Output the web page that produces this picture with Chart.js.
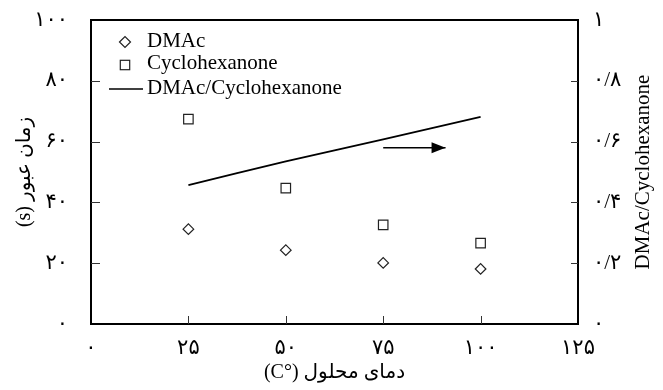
<!DOCTYPE html>
<html>
<head>
<meta charset="utf-8">
<script src="https://cdn.jsdelivr.net/npm/chart.js@4.4.1/dist/chart.umd.min.js"></script>
<style>
  html, body { margin: 0; padding: 0; background: #fff; }
</style>
</head>
<body>
<canvas id="chart" width="663" height="390"></canvas>
<script>
const temps = [25, 50, 75, 100];
const dmacTime = [31.2, 24.3, 20.1, 18.1];
const cycloTime = [67.4, 44.7, 32.6, 26.6];
const ratio = [0.457, 0.535, 0.607, 0.681];
const arrowX = [75, 91];
const arrowY = [0.58, 0.58];

const xTickLabels = ["۰", "۲۵", "۵۰", "۷۵", "۱۰۰", "۱۲۵"];
const leftTickLabels = ["۰", "۲۰", "۴۰", "۶۰", "۸۰", "۱۰۰"];
const rightTickLabels = ["۰", "۰/۲", "۰/۴", "۰/۶", "۰/۸", "۱"];
const seriesNames = ["DMAc", "Cyclohexanone", "DMAc/Cyclohexanone"];
const xTitle = "دمای محلول (°C)";
const leftTitle = "زمان عبور (s)";
const rightTitle = "DMAc/Cyclohexanone";

const serif = "'Liberation Serif', 'DejaVu Sans', serif";
const ink = "#000";

const pts = (xs, ys) => xs.map((x, i) => ({ x: x, y: ys[i] }));
const rtl = (s) => "\u202B" + s + "\u202C";
// keep the plot box where it is: no extra room for half tick labels
const noPad = (s) => {
  s.paddingTop = 0;
  s.paddingBottom = 0;
  s.paddingLeft = 0;
  s.paddingRight = 0;
};

// frame, inward tick marks, arrow head, right title and legend
const decor = {
  id: "decor",
  afterDraw(chart) {
    const { ctx, chartArea: a, scales } = chart;
    ctx.save();
    ctx.strokeStyle = ink;
    ctx.lineWidth = 2;
    ctx.strokeRect(a.left, a.top, a.right - a.left, a.bottom - a.top);

    ctx.lineWidth = 1;
    ctx.strokeStyle = "#333";
    scales.x.ticks.forEach((t) => {
      if (t.value <= scales.x.min || t.value >= scales.x.max) return;
      const px = Math.round(scales.x.getPixelForValue(t.value)) + 0.5;
      ctx.beginPath();
      ctx.moveTo(px, a.bottom);
      ctx.lineTo(px, a.bottom - 8);
      ctx.stroke();
    });
    scales.y.ticks.forEach((t) => {
      if (t.value <= scales.y.min || t.value >= scales.y.max) return;
      const py = Math.round(scales.y.getPixelForValue(t.value)) + 0.5;
      ctx.beginPath();
      ctx.moveTo(a.left, py);
      ctx.lineTo(a.left + 9, py);
      ctx.stroke();
    });
    scales.y2.ticks.forEach((t) => {
      if (t.value <= scales.y2.min || t.value >= scales.y2.max) return;
      const py = Math.round(scales.y2.getPixelForValue(t.value)) + 0.5;
      ctx.beginPath();
      ctx.moveTo(a.right, py);
      ctx.lineTo(a.right - 7, py);
      ctx.stroke();
    });

    // arrow head at the end of the arrow dataset
    const tipX = scales.x.getPixelForValue(arrowX[1]);
    const tipY = scales.y2.getPixelForValue(arrowY[1]);
    ctx.fillStyle = ink;
    ctx.beginPath();
    ctx.moveTo(tipX, tipY);
    ctx.lineTo(tipX - 14, tipY - 5.5);
    ctx.lineTo(tipX - 14, tipY + 5.5);
    ctx.closePath();
    ctx.fill();

    // right axis title, reading bottom to top
    ctx.font = "21px " + serif;
    ctx.textAlign = "center";
    ctx.textBaseline = "middle";
    ctx.translate(a.right + 65, (a.top + a.bottom) / 2);
    ctx.rotate(-Math.PI / 2);
    ctx.fillText(rightTitle, 0, 0);
    ctx.setTransform(1, 0, 0, 1, 0, 0);

    // legend inside the plot
    const ds = chart.data.datasets;
    const mx = a.left + 34;
    const tx = a.left + 56;
    ctx.strokeStyle = ds[0].borderColor;
    ctx.lineWidth = ds[0].borderWidth;
    ctx.beginPath();
    ctx.moveTo(mx - 5.5, a.top + 22);
    ctx.lineTo(mx, a.top + 16.5);
    ctx.lineTo(mx + 5.5, a.top + 22);
    ctx.lineTo(mx, a.top + 27.5);
    ctx.closePath();
    ctx.stroke();
    ctx.strokeRect(mx - 4.7, a.top + 45 - 4.7, 9.4, 9.4);
    ctx.strokeStyle = ds[2].borderColor;
    ctx.lineWidth = 1.5;
    ctx.beginPath();
    ctx.moveTo(a.left + 18, a.top + 69);
    ctx.lineTo(a.left + 52, a.top + 69);
    ctx.stroke();

    ctx.fillStyle = ink;
    ctx.textAlign = "left";
    ctx.textBaseline = "alphabetic";
    ctx.fillText(ds[0].label, tx, a.top + 27);
    ctx.fillText(ds[1].label, tx, a.top + 49);
    ctx.fillText(ds[2].label, tx, a.top + 74);
    ctx.restore();
  },
};

const tickFont = { family: serif, size: 21 };
const titleFont = { family: serif, size: 20 };

new Chart(document.getElementById("chart"), {
  type: "scatter",
  plugins: [decor],
  data: {
    datasets: [
      {
        label: seriesNames[0],
        data: pts(temps, dmacTime),
        yAxisID: "y",
        pointStyle: "rectRot",
        pointRadius: 5.3,
        borderColor: "#222",
        backgroundColor: "rgba(0,0,0,0)",
        borderWidth: 1.2,
      },
      {
        label: seriesNames[1],
        data: pts(temps, cycloTime),
        yAxisID: "y",
        pointStyle: "rect",
        pointRadius: 6.7,
        borderColor: "#222",
        backgroundColor: "rgba(0,0,0,0)",
        borderWidth: 1.2,
      },
      {
        label: seriesNames[2],
        data: pts(temps, ratio),
        yAxisID: "y2",
        showLine: true,
        tension: 0.2,
        pointRadius: 0,
        borderColor: ink,
        borderWidth: 1.8,
      },
      {
        label: "arrow",
        data: pts(arrowX, arrowY),
        yAxisID: "y2",
        showLine: true,
        pointRadius: 0,
        borderColor: ink,
        borderWidth: 1.6,
      },
    ],
  },
  options: {
    responsive: false,
    animation: false,
    devicePixelRatio: 1,
    layout: { padding: { top: 20, left: 0, right: 0, bottom: 0 } },
    plugins: {
      legend: { display: false },
      tooltip: { enabled: false },
    },
    scales: {
      x: {
        type: "linear",
        min: 0,
        max: 125,
        afterFit: (s) => { s.height = 66; noPad(s); },
        grid: { display: false, drawTicks: false },
        border: { display: false },
        ticks: {
          stepSize: 25,
          autoSkip: false,
          maxRotation: 0,
          padding: 12,
          color: ink,
          font: tickFont,
          callback: (v, i) => xTickLabels[i],
        },
        title: {
          display: true,
          text: rtl(xTitle),
          color: ink,
          font: titleFont,
          padding: { top: 0, bottom: 5 },
        },
      },
      y: {
        position: "left",
        min: 0,
        max: 100,
        afterFit: (s) => { s.width = 91; noPad(s); },
        grid: { display: false, drawTicks: false },
        border: { display: false },
        ticks: {
          stepSize: 20,
          padding: 23,
          color: ink,
          font: tickFont,
          callback: (v, i) => leftTickLabels[i],
        },
        title: {
          display: true,
          text: rtl(leftTitle),
          color: ink,
          font: titleFont,
          padding: { top: 13, bottom: 0 },
        },
      },
      y2: {
        position: "right",
        min: 0,
        max: 1,
        afterFit: (s) => { s.width = 85; noPad(s); },
        grid: { display: false, drawTicks: false },
        border: { display: false },
        ticks: {
          stepSize: 0.2,
          padding: 15,
          color: ink,
          font: tickFont,
          callback: (v, i) => rightTickLabels[i],
        },
      },
    },
  },
});
</script>
</body>
</html>
